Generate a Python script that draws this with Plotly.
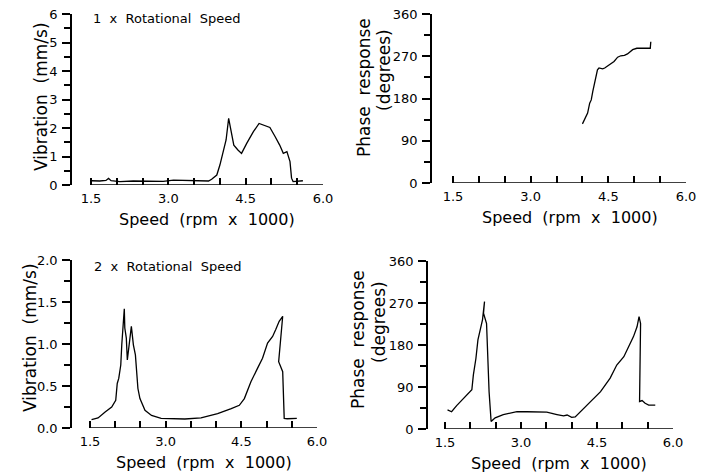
import plotly.graph_objects as go

# --- data ---
# 1 x rotational speed : amplitude
speed_1x_amp = [1.51, 1.67, 1.79, 1.84, 1.89, 2.06, 2.32, 2.65, 2.90, 3.10, 3.29, 3.49, 3.68,
                3.78, 3.84, 3.94, 4.00, 4.06, 4.12, 4.17, 4.23, 4.27, 4.35, 4.42, 4.52, 4.65,
                4.76, 4.87, 4.97, 5.07, 5.16, 5.23, 5.30, 5.36, 5.39, 5.42, 5.50, 5.61]
amp_1x = [0.15, 0.14, 0.16, 0.23, 0.15, 0.12, 0.14, 0.12, 0.13, 0.17, 0.16, 0.13, 0.14,
          0.14, 0.20, 0.35, 0.70, 1.17, 1.58, 2.34, 1.81, 1.40, 1.23, 1.11, 1.46, 1.87,
          2.16, 2.10, 2.02, 1.70, 1.40, 1.11, 1.17, 0.82, 0.24, 0.12, 0.13, 0.15]

# 1 x rotational speed : phase
speed_1x_phase = [4.00, 4.05, 4.10, 4.14, 4.17, 4.20, 4.22, 4.26, 4.29, 4.32, 4.39, 4.43,
                  4.47, 4.55, 4.61, 4.68, 4.74, 4.81, 4.87, 4.97, 5.05, 5.19, 5.31, 5.32]
phase_1x = [126, 138, 149, 170, 177, 195, 206, 220, 241, 245, 243, 245,
            248, 254, 259, 268, 271, 272, 275, 284, 287, 287, 287, 301]

# 2 x rotational speed : amplitude
speed_2x_amp = [1.53, 1.66, 1.80, 1.93, 2.01, 2.04, 2.07, 2.11, 2.13, 2.16, 2.18, 2.19, 2.22,
                2.24, 2.28, 2.32, 2.36, 2.40, 2.45, 2.49, 2.59, 2.72, 2.91, 3.38, 3.70, 4.03,
                4.30, 4.46, 4.56, 4.69, 4.82, 4.92, 5.02, 5.12, 5.18, 5.25, 5.32, 5.24, 5.32,
                5.35, 5.41, 5.51, 5.60]
amp_2x = [0.10, 0.12, 0.19, 0.25, 0.33, 0.53, 0.59, 0.75, 0.99, 1.29, 1.42, 1.19, 1.07,
          0.81, 1.03, 1.21, 0.99, 0.87, 0.47, 0.35, 0.21, 0.15, 0.115, 0.107, 0.12, 0.17,
          0.23, 0.27, 0.35, 0.55, 0.71, 0.83, 1.01, 1.09, 1.17, 1.27, 1.33, 0.79, 0.67,
          0.115, 0.11, 0.115, 0.115]

# 2 x rotational speed : phase
speed_2x_phase = [1.55, 1.63, 1.73, 1.86, 2.03, 2.06, 2.11, 2.15, 2.19, 2.24, 2.28, 2.26,
                  2.32, 2.34, 2.37, 2.41, 2.49, 2.65, 2.79, 2.92, 3.12, 3.51, 3.71, 3.84,
                  3.91, 4.00, 4.07, 4.17, 4.37, 4.57, 4.76, 4.89, 5.03, 5.12, 5.22, 5.29,
                  5.33, 5.36, 5.34, 5.39, 5.45, 5.52, 5.65]
phase_2x = [41, 37, 50, 64, 84, 116, 151, 191, 209, 234, 273, 248,
            226, 159, 80, 16, 24, 31, 34, 37, 37, 36, 31, 28,
            30, 25, 26, 37, 59, 80, 109, 137, 155, 176, 198, 219,
            241, 226, 59, 61, 55, 51, 51]

speed_ticks = [1.5, 3.0, 4.5, 6.0]
speed_minor = [2.0, 2.5, 3.5, 4.0, 5.0, 5.5]
amp_1x_ticks = [0, 1, 2, 3, 4, 5, 6]
amp_2x_ticks = [0.0, 0.5, 1.0, 1.5, 2.0]
phase_ticks = [0, 90, 180, 270, 360]

# the page body has an 8px margin, so the figure is drawn 8px in from the window corner
OFF = 8
W, H = 708 - OFF, 475 - OFF
FONT = "DejaVu Sans, Verdana, sans-serif"


def px(v):
    return (v - OFF) / W


def py(v):
    return 1 - (v - OFF) / H


# panel frames in window pixels: y-axis line x, x of speed 1.5, x of speed 6.0, top, bottom
panels = [
    (72, 91, 323, 14, 185),
    (432, 453, 686, 14, 183),
    (72, 90, 317, 260, 428),
    (428, 445, 673, 261, 429),
]

fig = go.Figure()
line = dict(color="black", width=1.3)
series = [(speed_1x_amp, amp_1x), (speed_1x_phase, phase_1x),
          (speed_2x_amp, amp_2x), (speed_2x_phase, phase_2x)]
for i, (sx, sy) in enumerate(series):
    n = "" if i == 0 else str(i + 1)
    fig.add_trace(go.Scatter(x=sx, y=sy, mode="lines", line=line, xaxis="x" + n, yaxis="y" + n,
                             hoverinfo="x+y"))

ycfg = [([0, 6], amp_1x_ticks, 0.5, "d"),
        ([0, 360], phase_ticks, 45, "d"),
        ([0, 2], amp_2x_ticks, 0.25, ".1f"),
        ([0, 360], phase_ticks, 45, "d")]

tick_font = dict(size=13, color="black", family=FONT)
ann_font = dict(size=17, color="black", family=FONT)
small_font = dict(size=13, color="black", family=FONT)
annotations = []

layout = dict(width=W, height=H, margin=dict(l=0, r=0, t=0, b=0, autoexpand=False),
              showlegend=False, paper_bgcolor="white", plot_bgcolor="white")
for i, ((yx, x15, x60, top, bot), (rng, vals, mstep, fmt)) in enumerate(zip(panels, ycfg)):
    n = "" if i == 0 else str(i + 1)
    # x range reaches left to the y-axis line so the speed axis sits detached from it
    scale = (x60 - x15) / (speed_ticks[-1] - speed_ticks[0])
    lo = speed_ticks[0] - (x15 - yx) / scale
    layout["xaxis" + n] = dict(
        domain=[px(yx), px(x60)], anchor="y" + n, range=[lo, speed_ticks[-1]],
        showline=False, showgrid=False, zeroline=False, automargin=False,
        tickvals=speed_ticks, tickformat=".1f", ticks="inside", ticklen=7, tickwidth=1.5,
        tickcolor="black", ticklabelstandoff=4, ticklabeloverflow="allow",
        minor=dict(tickvals=speed_minor, ticks="inside", ticklen=7, tickwidth=1.5,
                   tickcolor="black", showgrid=False),
        tickfont=tick_font)
    layout["yaxis" + n] = dict(
        domain=[py(bot), py(top)], anchor="x" + n, range=rng, showline=True, linecolor="black",
        linewidth=1.5, showgrid=False, zeroline=False, automargin=False, tickvals=vals,
        tickformat=fmt, ticks="outside", ticklen=8, tickwidth=1.5, tickcolor="black",
        ticklabelstandoff=2, ticklabeloverflow="allow",
        minor=dict(dtick=mstep, tick0=0, ticks="outside", ticklen=6, tickwidth=1.5,
                   tickcolor="black", showgrid=False),
        tickfont=tick_font)
    # speed axis line, only from 1.5 to 6.0
    fig.add_shape(type="line", xref="x" + n, yref="y" + n, x0=speed_ticks[0], x1=speed_ticks[-1],
                  y0=rng[0], y1=rng[0], line=dict(color="black", width=1.5), layer="above")
    # speed title centred under the 1.5 - 6.0 span
    annotations.append(dict(x=px((x15 + x60) / 2), y=py(bot + 34), text="Speed  (rpm  x  1000)",
                            font=dict(size=16, color="black", family=FONT)))

fig.update_layout(**layout)

annotations += [
    dict(x=px(41), y=py(97), text="Vibration  (mm/s)", textangle=-90, font=ann_font),
    dict(x=px(30), y=py(338), text="Vibration  (mm/s)", textangle=-90, font=ann_font),
    dict(x=px(364), y=py(88), text="Phase  response", textangle=-90, font=ann_font),
    dict(x=px(384), y=py(70), text="(degrees)", textangle=-90, font=ann_font),
    dict(x=px(358), y=py(340), text="Phase  response", textangle=-90, font=ann_font),
    dict(x=px(379), y=py(322), text="(degrees)", textangle=-90, font=ann_font),
    dict(x=px(91), y=py(19), text="1  x  Rotational  Speed", xanchor="left", font=small_font),
    dict(x=px(92), y=py(266), text="2  x  Rotational  Speed", xanchor="left", font=small_font),
]
for a in annotations:
    a.setdefault("xanchor", "center")
    a.update(xref="paper", yref="paper", yanchor="middle", showarrow=False)
fig.update_layout(annotations=annotations)

fig.write_html("out.html")
